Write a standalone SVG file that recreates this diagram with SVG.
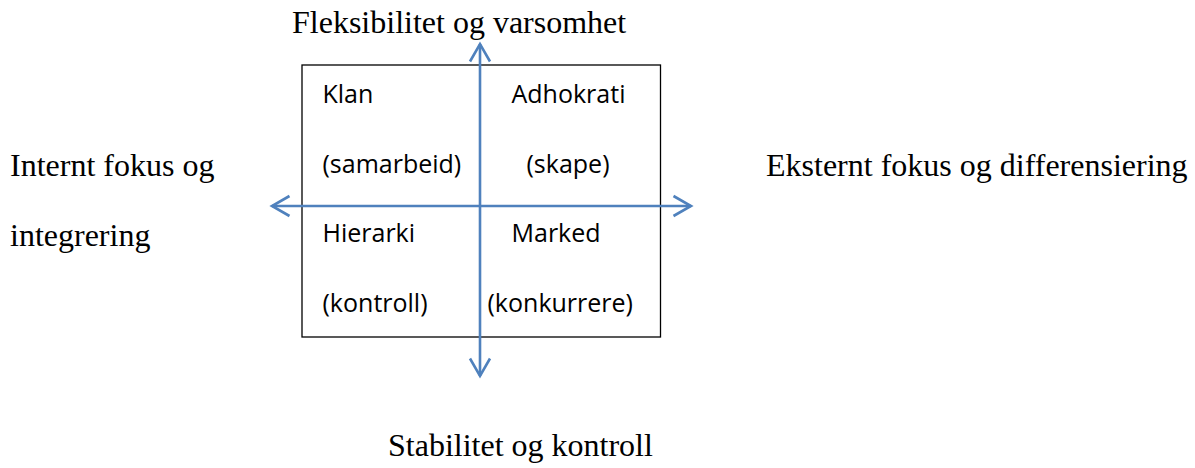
<svg xmlns="http://www.w3.org/2000/svg" width="1195" height="468" viewBox="0 0 1195 468">
<style>
.axis{font-family:"Liberation Serif","Times New Roman",serif;font-size:32px;fill:#000}
.q{font-family:"Open Sans","Noto Sans",sans-serif;font-size:25px;fill:#000}
.conn{stroke:#4F81BD;stroke-width:2.6;fill:none}
</style>
<defs>
<marker id="chev" markerUnits="userSpaceOnUse" markerWidth="26" markerHeight="26" viewBox="-22 -13 26 26" refX="0" refY="0" orient="auto-start-reverse">
<path d="M-17.5,-10 L0,0 L-17.5,10" fill="none" stroke="#4F81BD" stroke-width="2.6"/>
</marker>
</defs>
<rect width="1195" height="468" fill="#fff"/>
<g id="matrix">
<rect x="302" y="65" width="358.5" height="272" fill="none" stroke="#000" stroke-width="1.3"/>
</g>
<g id="connectors">
<line class="conn" x1="480" y1="44" x2="480" y2="376" marker-start="url(#chev)" marker-end="url(#chev)"/>
<line class="conn" x1="272" y1="206" x2="691" y2="206" marker-start="url(#chev)" marker-end="url(#chev)"/>
</g>
<g id="klan"><text class="q" x="322.5" y="102.5">Klan</text><text class="q" x="322.5" y="172.5">(samarbeid)</text></g>
<g id="adhokrati"><text class="q" x="511.5" y="102.5">Adhokrati</text><text class="q" x="526.5" y="172.5">(skape)</text></g>
<g id="hierarki"><text class="q" x="322.5" y="242">Hierarki</text><text class="q" x="322.5" y="312">(kontroll)</text></g>
<g id="marked"><text class="q" x="511.5" y="242">Marked</text><text class="q" x="487.5" y="312">(konkurrere)</text></g>
<g id="top-label"><text class="axis" x="292" y="33">Fleksibilitet og varsomhet</text></g>
<g id="left-label"><text class="axis" x="10" y="176">Internt fokus og</text><text class="axis" x="10" y="246">integrering</text></g>
<g id="right-label"><text class="axis" x="766" y="176">Eksternt fokus og differensiering</text></g>
<g id="bottom-label"><text class="axis" x="388" y="456">Stabilitet og kontroll</text></g>
</svg>
